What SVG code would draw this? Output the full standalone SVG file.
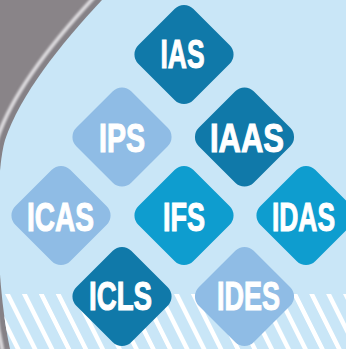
<svg xmlns="http://www.w3.org/2000/svg" width="346" height="349" viewBox="0 0 346 349">
  <style>
    .dk { fill: #1079a9; }
    .md { fill: #0e9dcf; }
    .lt { fill: #8fbce5; }
    .lbl { font-family: "Liberation Sans", Arial, sans-serif; font-weight: bold; font-size: 40px; fill: #ffffff; text-anchor: middle; stroke: #ffffff; stroke-width: 1.1; stroke-linejoin: miter; }
  </style>
  <defs>
    <rect id="dia" x="-38.85" y="-38.85" width="77.7" height="77.7" rx="13" ry="13" transform="rotate(45)"/>
    <path id="edge" d="M102,0 C60,45 20,95 5,140 C-5,175 -5,280 10,349"/>
    <clipPath id="blueClip">
      <path d="M102,0 C60,45 20,95 5,140 C-5,175 -5,280 10,349 L346,349 L346,0 Z"/>
    </clipPath>
    <pattern id="stripes" patternUnits="userSpaceOnUse" width="16.9" height="20" patternTransform="translate(5,294) skewX(26.565)">
      <rect x="0" y="0" width="5" height="20" fill="#ffffff"/>
    </pattern>
    <filter id="soft" x="-10%" y="-10%" width="120%" height="120%">
      <feGaussianBlur stdDeviation="0.9"/>
    </filter>
  </defs>

  <!-- background -->
  <rect x="0" y="0" width="346" height="349" fill="#898488"/>
  <g filter="url(#soft)" fill="none">
    <use href="#edge" stroke="#dedcdf" stroke-width="19"/>
    <use href="#edge" stroke="#858186" stroke-width="12"/>
  </g>
  <path d="M102,0 C60,45 20,95 5,140 C-5,175 -5,280 10,349 L346,349 L346,0 Z" fill="#c9e6f7"/>
  <rect x="0" y="294" width="346" height="55" fill="url(#stripes)" clip-path="url(#blueClip)"/>

  <!-- nodes -->
  <g id="node-IAS" transform="translate(184,54.5)">
    <use href="#dia" class="dk"/>
    <text class="lbl" x="-1.5" y="13.5" font-size="38.5" textLength="44" lengthAdjust="spacingAndGlyphs">IAS</text>
  </g>
  <g id="node-IPS" transform="translate(122,137)">
    <use href="#dia" class="lt"/>
    <text class="lbl" x="0" y="14.7" textLength="46" lengthAdjust="spacingAndGlyphs">IPS</text>
  </g>
  <g id="node-IAAS" transform="translate(244.5,137)">
    <use href="#dia" class="dk"/>
    <text class="lbl" x="2.5" y="14.7" textLength="74" lengthAdjust="spacingAndGlyphs">IAAS</text>
  </g>
  <g id="node-ICAS" transform="translate(61,215.5)">
    <use href="#dia" class="lt"/>
    <text class="lbl" x="-0.5" y="15.5" textLength="67" lengthAdjust="spacingAndGlyphs">ICAS</text>
  </g>
  <g id="node-IFS" transform="translate(184,215.5)">
    <use href="#dia" class="md"/>
    <text class="lbl" x="0" y="15" textLength="42" lengthAdjust="spacingAndGlyphs">IFS</text>
  </g>
  <g id="node-IDAS" transform="translate(306,215.5)">
    <use href="#dia" class="md"/>
    <text class="lbl" x="-2.5" y="15" textLength="63" lengthAdjust="spacingAndGlyphs">IDAS</text>
  </g>
  <g id="node-ICLS" transform="translate(122,296.5)">
    <use href="#dia" class="dk"/>
    <text class="lbl" x="-1.5" y="13.5" textLength="63" lengthAdjust="spacingAndGlyphs">ICLS</text>
  </g>
  <g id="node-IDES" transform="translate(244.5,296.5)">
    <use href="#dia" class="lt"/>
    <text class="lbl" x="4" y="13.5" textLength="63" lengthAdjust="spacingAndGlyphs">IDES</text>
  </g>
</svg>
